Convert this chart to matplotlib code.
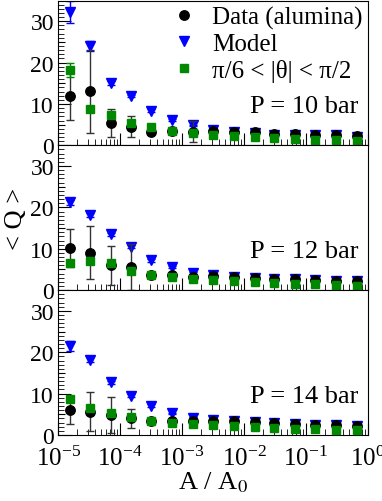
import matplotlib.pyplot as plt
from matplotlib.ticker import MultipleLocator, LogLocator, NullFormatter

plt.rcParams["font.family"] = ["Liberation Serif", "DejaVu Serif"]
plt.rcParams["mathtext.fontset"] = "stix"

# A / A0 positions (log spaced bins)
area = [1.55e-5, 3.3e-5, 7.1e-5, 1.5e-4, 3.2e-4, 6.9e-4, 1.5e-3, 3.2e-3,
        6.8e-3, 1.5e-2, 3.1e-2, 6.7e-2, 0.14, 0.31, 0.67]

pressures = ["P = 10 bar", "P = 12 bar", "P = 14 bar"]

data_q = [
    [12.0, 13.1, 5.5, 4.5, 3.2, 3.4, 3.3, 3.4, 3.2, 3.2, 2.7, 2.7, 2.6, 2.6, 2.2],
    [10.2, 9.1, 6.0, 5.6, 3.6, 3.6, 3.3, 3.4, 3.2, 3.0, 2.8, 2.6, 2.5, 2.2, 2.2],
    [6.1, 5.6, 4.9, 4.1, 3.3, 3.3, 3.3, 3.4, 3.3, 3.2, 2.8, 2.6, 2.5, 2.5, 2.1],
]
data_err = [
    [5.8, 10.0, 3.4, 2.6, 0.4, 0.4, 2.5, 0.3, 0.3, 0.3, 0.3, 0.3, 0.3, 0.3, 0.3],
    [4.7, 6.5, 4.7, 5.6, 0.4, 0.4, 0.4, 0.3, 0.3, 0.3, 0.3, 0.3, 0.3, 0.3, 0.3],
    [3.4, 4.7, 4.3, 2.3, 0.4, 0.4, 0.4, 0.3, 0.3, 0.3, 0.3, 0.3, 0.3, 0.3, 0.3],
]

model_q = [
    [32.3, 24.0, 15.1, 11.9, 8.4, 6.2, 4.8, 3.8, 3.3, 3.0, 2.6, 2.6, 2.5, 2.4, 2.1],
    [21.2, 18.1, 13.5, 10.5, 7.2, 5.6, 4.2, 3.6, 3.2, 3.0, 2.8, 2.6, 2.5, 2.2, 2.2],
    [21.6, 18.2, 12.7, 9.5, 7.1, 5.2, 4.2, 3.6, 3.3, 3.2, 2.8, 2.6, 2.5, 2.4, 2.2],
]
model_err = [
    [2.7, 1.2, 0.4, 0.3, 0.3, 0.2, 0.2, 0.2, 0.2, 0.2, 0.2, 0.2, 0.2, 0.2, 0.2],
    [0.6, 0.5, 0.4, 0.3, 0.3, 0.2, 0.2, 0.2, 0.2, 0.2, 0.2, 0.2, 0.2, 0.2, 0.2],
    [1.2, 0.6, 0.4, 0.3, 0.3, 0.2, 0.2, 0.2, 0.2, 0.2, 0.2, 0.2, 0.2, 0.2, 0.2],
]

theta_q = [
    [18.3, 8.7, 7.4, 5.3, 4.4, 3.5, 2.9, 2.4, 2.2, 2.0, 1.8, 1.5, 1.4, 1.2, 1.0],
    [6.5, 7.1, 6.6, 4.6, 3.6, 3.2, 2.7, 2.4, 2.1, 1.9, 1.8, 1.5, 1.5, 1.3, 1.1],
    [8.8, 6.5, 5.2, 4.4, 3.4, 3.0, 2.6, 2.4, 2.2, 1.9, 1.7, 1.5, 1.5, 1.3, 1.1],
]
theta_err = [
    [1.7, 0.6, 0.5, 0.4, 0.3, 0.3, 0.2, 0.2, 0.2, 0.2, 0.2, 0.2, 0.2, 0.2, 0.2],
    [0.5, 0.5, 0.4, 0.3, 0.3, 0.2, 0.2, 0.2, 0.2, 0.2, 0.2, 0.2, 0.2, 0.2, 0.2],
    [0.6, 0.5, 0.4, 0.3, 0.3, 0.2, 0.2, 0.2, 0.2, 0.2, 0.2, 0.2, 0.2, 0.2, 0.2],
]

fig, axes = plt.subplots(3, 1, sharex=True, figsize=(3.82, 5.02), dpi=100)
fig.subplots_adjust(left=0.152, right=0.963, bottom=0.1315, top=0.997, hspace=0)

for i, ax in enumerate(axes):
    ax.errorbar(area, model_q[i], yerr=model_err[i], fmt="v", color="#0000ff",
                ms=7, capsize=3, elinewidth=1, label="Model", zorder=2)
    ax.errorbar(area, data_q[i], yerr=data_err[i], fmt="o", color="black",
                ms=6.8, capsize=3, elinewidth=1, ecolor="#333333",
                label="Data (alumina)", zorder=3)
    ax.errorbar(area, theta_q[i], yerr=theta_err[i], fmt="s", color="#008800",
                ms=5.8, capsize=3, elinewidth=1,
                label="π/6 < |θ| < π/2", zorder=4)

    ax.set_xscale("log")
    ax.set_xlim(1e-5, 1)
    ax.set_ylim(0, 35)
    ax.yaxis.set_major_locator(MultipleLocator(10))
    ax.yaxis.set_minor_locator(MultipleLocator(1))
    ax.xaxis.set_major_locator(LogLocator(base=10, numticks=20))
    ax.xaxis.set_minor_locator(LogLocator(base=10, subs=range(2, 10), numticks=20))
    ax.xaxis.set_minor_formatter(NullFormatter())
    ax.tick_params(which="both", direction="in", top=False, right=False)
    ax.tick_params(axis="y", labelsize=17, pad=3)
    ax.tick_params(axis="x", labelsize=18, pad=8)
    ax.tick_params(which="major", length=9)
    ax.tick_params(which="minor", length=4)
    # medium ticks at 5, 15, 25
    for v in (5, 15, 25):
        ax.plot([1e-5, 1.3e-5], [v, v], color="black", lw=0.8,
                solid_capstyle="butt", zorder=1)
    ax.text(0.97, 0.27, pressures[i], transform=ax.transAxes,
            ha="right", va="center", fontsize=19)

handles, labels = axes[0].get_legend_handles_labels()
order = [1, 0, 2]
axes[0].legend([handles[k][0] for k in order], [labels[k] for k in order],
               loc="upper right", frameon=False, fontsize=18, handletextpad=0.6,
               borderaxespad=0.0, labelspacing=0.15, handlelength=1.0,
               borderpad=0.1, bbox_to_anchor=(0.99, 0.98))

axes[1].set_ylabel("< Q >", fontsize=19, labelpad=2)
axes[2].set_xlabel("A / A$_0$", fontsize=19, labelpad=-1)

fig.savefig("out.png", dpi=100)
